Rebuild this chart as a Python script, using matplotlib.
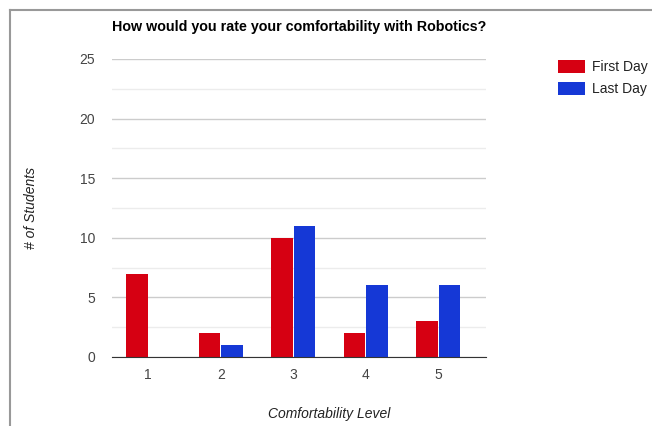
import matplotlib
matplotlib.use("Agg")
import matplotlib.pyplot as plt
from matplotlib.lines import Line2D
import numpy as np

categories = ["1", "2", "3", "4", "5"]
first_day = [7, 2, 10, 2, 3]
last_day = [0, 1, 11, 6, 6]
series_names = ["First Day", "Last Day"]
colors = ["#d60012", "#1538d6"]

plt.rcParams['font.family'] = ['Liberation Sans', 'DejaVu Sans']

W, H = 652, 426
fig = plt.figure(figsize=(W/100, H/100), dpi=100)
ax = fig.add_axes([112/W, 1-357/H, (486-112)/W, (357-59)/H])

x = np.arange(1, len(categories)+1)
bw = 0.30
ax.bar(x - bw/2 - 0.005, first_day, bw, color=colors[0], label=series_names[0], zorder=3)
ax.bar(x + bw/2 + 0.005, last_day, bw, color=colors[1], label=series_names[1], zorder=3)

ax.set_xlim(0.5, 5.66)
ax.set_ylim(0, 25)
ax.set_yticks([0, 5, 10, 15, 20, 25])
ax.set_yticks([2.5, 7.5, 12.5, 17.5, 22.5], minor=True)
ax.set_xticks(x)
ax.set_xticklabels(categories)
ax.grid(axis='y', which='major', color='#cccccc', linewidth=1, zorder=0)
ax.grid(axis='y', which='minor', color='#ececec', linewidth=1, zorder=0)
for s in ['top', 'right', 'left']:
    ax.spines[s].set_visible(False)
ax.spines['bottom'].set_color('#333333')
ax.spines['bottom'].set_zorder(4)
ax.tick_params(axis='both', which='both', length=0, labelsize=10, colors='#444444')
ax.tick_params(axis='y', pad=12)
ax.tick_params(axis='x', pad=8)

fig.text(112/W, 1-27/H, "How would you rate your comfortability with Robotics?",
         fontsize=10.3, fontweight='bold', ha='left', va='center', color='#000000')
fig.text(329/W, 1-414/H, "Comfortability Level", fontsize=10, style='italic',
         ha='center', va='center', color='#222222')
fig.text(31/W, 1-208/H, "# of Students", fontsize=10, style='italic', rotation=90,
         ha='center', va='center', color='#222222')

leg = ax.legend(loc='upper left', bbox_to_anchor=(545/W, 1-47/H),
                bbox_transform=fig.transFigure, frameon=False, fontsize=10,
                handlelength=2.0, handleheight=1.1, labelspacing=0.55, handletextpad=0.5)
for t in leg.get_texts():
    t.set_color('#222222')

fig.add_artist(Line2D([10/W, 10/W], [0, 1-10/H], transform=fig.transFigure, color='#999999', linewidth=1.5))
fig.add_artist(Line2D([10/W, 1], [1-10/H, 1-10/H], transform=fig.transFigure, color='#999999', linewidth=1.5))

fig.savefig("out.png", dpi=100)
